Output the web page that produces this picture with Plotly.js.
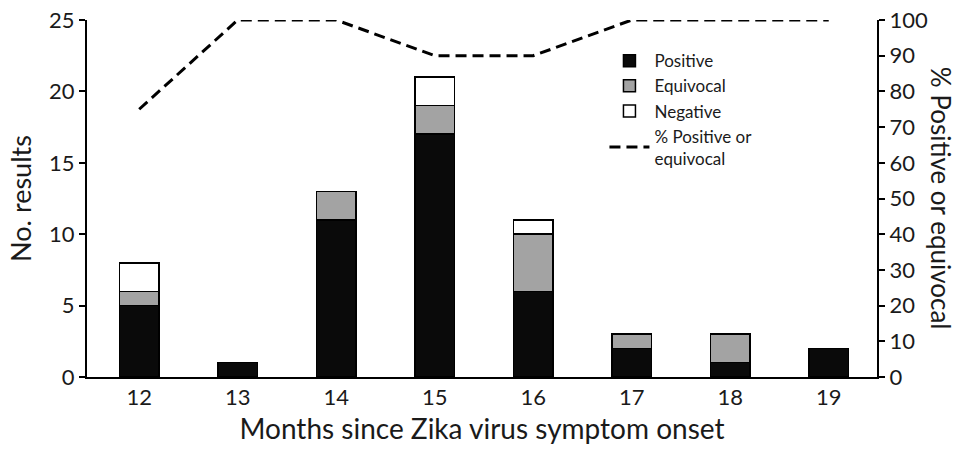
<!DOCTYPE html>
<html><head><meta charset="utf-8">
<script src="https://cdn.plot.ly/plotly-3.0.1.min.js"></script>
<style>body{margin:0;background:#fff}#c{width:960px;height:452px}</style>
</head><body><div id="c"></div>
<script>
const months = [12, 13, 14, 15, 16, 17, 18, 19];
const positive = [5, 1, 11, 17, 6, 2, 1, 2];
const equivocal = [1, 0, 2, 2, 4, 1, 2, 0];
const negative = [2, 0, 0, 2, 1, 0, 0, 0];
const pctPosEq = [75, 100, 100, 90, 90, 100, 100, 100];

const font = "Lato, 'Open Sans', sans-serif";
const barLine = {color: '#000', width: 1.5};
const traces = [
  {type: 'bar', name: 'Positive', x: months, y: positive, width: 0.4,
   marker: {color: '#0a0a0a', line: barLine}},
  {type: 'bar', name: 'Equivocal', x: months, y: equivocal, width: 0.4,
   marker: {color: '#a3a3a3', line: barLine}},
  {type: 'bar', name: 'Negative', x: months, y: negative, width: 0.4,
   marker: {color: '#ffffff', line: barLine}},
  {type: 'scatter', mode: 'lines', name: '% Positive or<br>equivocal', x: months, y: pctPosEq,
   yaxis: 'y2', line: {color: '#000', width: 3, dash: '11px,6px'}}
];
const layout = {
  width: 960, height: 452,
  margin: {l: 87, r: 83, t: 20, b: 75},
  barmode: 'stack',
  paper_bgcolor: '#fff', plot_bgcolor: '#fff',
  font: {family: font, color: '#1a1a1a', size: 22},
  showlegend: true,
  legend: {x: 0.655, y: 0.935, xanchor: 'left', yanchor: 'top', bgcolor: 'rgba(0,0,0,0)',
           font: {size: 17, family: font}, tracegroupgap: 0, traceorder: 'normal', itemwidth: 40},
  xaxis: {range: [11.47, 19.49], tickvals: months, ticktext: months.map(String),
          showgrid: false, zeroline: false, showline: true, linecolor: '#000', linewidth: 2,
          ticks: '', tickfont: {size: 22}, fixedrange: true,
          title: {text: 'Months since Zika virus symptom onset', font: {size: 28}, standoff: 10}},
  yaxis: {range: [0, 25], dtick: 5, showgrid: false, zeroline: false, showline: true,
          linecolor: '#000', linewidth: 2, ticks: 'outside', ticklen: 6, tickwidth: 2,
          tickcolor: '#000', tickfont: {size: 22},
          title: {text: 'No. results', font: {size: 27}, standoff: 10}},
  yaxis2: {range: [0, 100], dtick: 10, overlaying: 'y', side: 'right', showgrid: false,
           zeroline: false, showline: true, linecolor: '#000', linewidth: 2, ticks: 'outside',
           ticklen: 6, tickwidth: 2, tickcolor: '#000', tickfont: {size: 22}},
  annotations: [{text: '% Positive or equivocal', xref: 'paper', yref: 'paper', x: 1.082, y: 0.5,
                 xanchor: 'center', yanchor: 'middle', textangle: 90, showarrow: false,
                 font: {size: 26, family: font, color: '#1a1a1a'}}]
};
Plotly.newPlot('c', traces, layout, {displayModeBar: false, staticPlot: true});
</script></body></html>
